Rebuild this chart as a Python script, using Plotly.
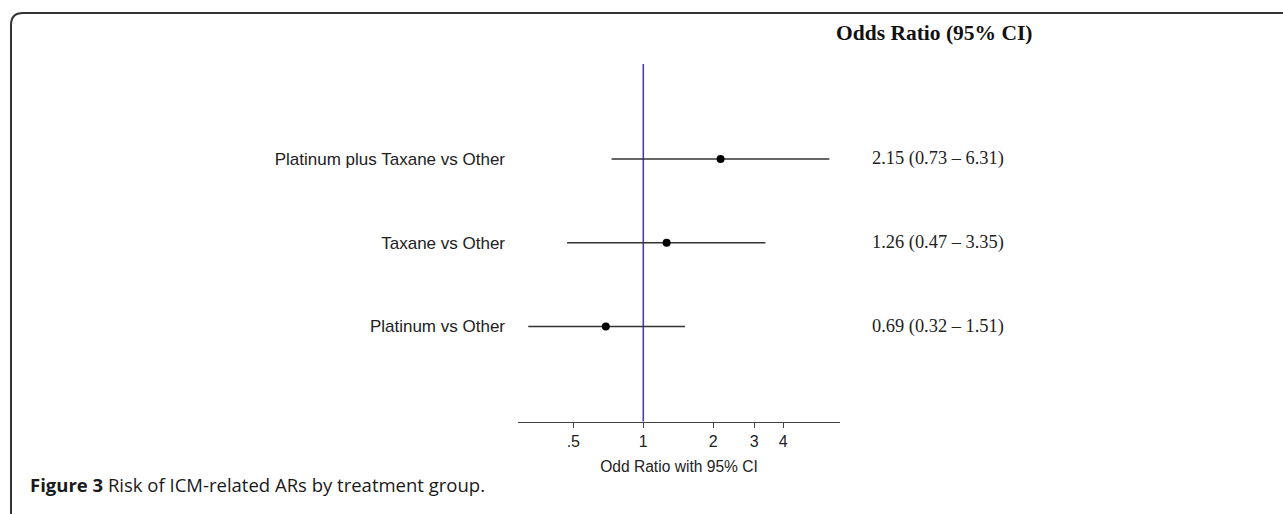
import plotly.graph_objects as go

# ---- data ----
comparisons = ["Platinum plus Taxane vs Other", "Taxane vs Other", "Platinum vs Other"]
odds_ratio = [2.15, 1.26, 0.69]
ci_low = [0.73, 0.47, 0.32]
ci_high = [6.31, 3.35, 1.51]
row_pos = [3, 2, 1]
tick_vals = [0.5, 1, 2, 3, 4]
tick_text = [".5", "1", "2", "3", "4"]

W, H = 1283, 514

err_plus = [h - o for h, o in zip(ci_high, odds_ratio)]
err_minus = [o - l for o, l in zip(odds_ratio, ci_low)]

fig = go.Figure()
fig.add_trace(go.Scatter(
    x=odds_ratio, y=row_pos, mode="markers",
    marker=dict(color="#000000", size=8),
    error_x=dict(type="data", symmetric=False, array=err_plus, arrayminus=err_minus,
                 width=0, thickness=1.7, color="#333333"),
    showlegend=False, hoverinfo="x+y",
))

# reference line at OR = 1
fig.add_shape(type="line", xref="x", yref="y domain", x0=1, x1=1, y0=0, y1=1,
              line=dict(color="#4b3cb0", width=1.6), layer="below")

# value labels
for r, o, l, h in zip(row_pos, odds_ratio, ci_low, ci_high):
    fig.add_annotation(xref="paper", yref="y", x=870 / W, y=r, xanchor="left", yanchor="middle",
                       text=f"{o:.2f} ({l:.2f} \u2013 {h:.2f})", showarrow=False,
                       font=dict(family="Liberation Serif", size=18.4, color="#222222"))

# header
fig.add_annotation(xref="paper", yref="paper", x=834 / W, y=1 - 33 / H, xanchor="left", yanchor="middle",
                   text="<b>Odds Ratio (95% CI)</b>", showarrow=False,
                   font=dict(family="Liberation Serif", size=21.5, color="#111111"))

# caption
fig.add_annotation(xref="paper", yref="paper", x=28 / W, y=1 - 484 / H, xanchor="left", yanchor="middle",
                   text="<b>Figure 3</b> Risk of ICM-related ARs by treatment group.", showarrow=False,
                   font=dict(family="Open Sans", size=18.5, color="#1a1a1a"))

# rounded frame (top-left corner)
r = 12
path = (f"M {11 / W} 0 L {11 / W} {1 - (13 + r) / H} "
        f"Q {11 / W} {1 - 13 / H} {(11 + r) / W} {1 - 13 / H} L 1 {1 - 13 / H}")
fig.add_shape(type="path", xref="paper", yref="paper", path=path,
              line=dict(color="#333333", width=2))

fig.update_layout(
    width=W, height=H,
    margin=dict(l=0, r=0, t=0, b=0),
    paper_bgcolor="white", plot_bgcolor="white",
    font=dict(family="Liberation Sans", color="#222222"),
    xaxis=dict(
        type="log", domain=[518 / W, 840 / W], range=[-0.5389, 0.846],
        tickvals=tick_vals, ticktext=tick_text, ticks="outside", ticklen=5, tickwidth=1,
        tickcolor="#444444", showline=True, linecolor="#444444", linewidth=1.2,
        showgrid=False, zeroline=False, tickfont=dict(size=16, color="#222222"),
        title=dict(text="Odd Ratio with 95% CI", font=dict(size=15.6, color="#222222"), standoff=12),
    ),
    yaxis=dict(
        domain=[(H - 421.5) / H, (H - 64) / H], range=[-0.134, 4.134],
        tickvals=row_pos, ticktext=comparisons, ticks="", showline=False, showgrid=False,
        zeroline=False, tickfont=dict(size=17, color="#222222"), ticklabelstandoff=12,
    ),
)

fig.write_html("out.html", config={"displayModeBar": False},
               post_script="document.body.style.margin='0';document.body.style.overflow='hidden';")
